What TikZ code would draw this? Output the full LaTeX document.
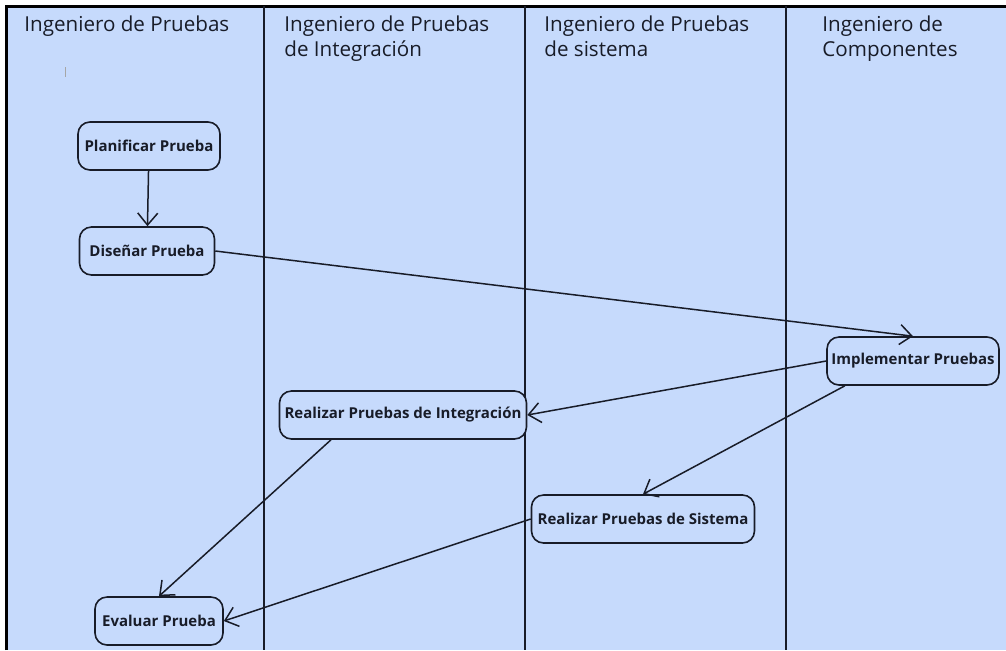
\documentclass[tikz,border=0pt]{standalone}
\usepackage{fontspec}
\setmainfont{Open Sans}
\usepackage{tikz}
\usetikzlibrary{arrows.meta}
\definecolor{lanefill}{RGB}{198,218,252}
\definecolor{ink}{RGB}{24,28,40}
\tikzstyle{lane}      = [line width=1pt, draw=ink]
\tikzstyle{head}      = [anchor=north west, align=left, inner sep=0pt, font=\fontsize{10.3}{12.5}\selectfont, text=ink]
\tikzstyle{act}       = [rectangle, rounded corners=6pt, minimum height=24pt, inner sep=2pt, text centered, draw=ink, line width=0.8pt, fill=lanefill, font=\bfseries\fontsize{7.5}{9}\selectfont, text=ink]
\tikzstyle{arrow}     = [line width=0.75pt, draw=ink, -{Straight Barb[length=6pt,width=10pt]}]

\begin{document}
\begin{tikzpicture}[x=0.5pt, y=-0.5pt, node distance=52.5pt]
      \useasboundingbox (0,0) rectangle (1006,650);
      \fill [lanefill] (6,6) rectangle (1006,650);
      \draw [line width=1.5pt, draw=black] (6,650) -- (6,6) -- (1006,6);
      \draw [lane] (264,6) -- (264,650);
      \draw [lane] (525,6) -- (525,650);
      \draw [lane] (786,6) -- (786,650);
      \draw [gray!70, line width=0.5pt] (65,67) -- (65,77);

      \node (h1) [head] at (24,15)  {Ingeniero de Pruebas};
      \node (h2) [head] at (284,15) {Ingeniero de Pruebas\\de Integración};
      \node (h3) [head] at (544,15) {Ingeniero de Pruebas\\de sistema};
      \node (h4) [head] at (822,15) {Ingeniero de\\Componentes};

      \node (plan)  [act, minimum width=71pt]  at (149,146) {Planificar Prueba};
      \node (dis)   [act, minimum width=67.5pt, below of=plan, xshift=-1pt] {Diseñar Prueba};
      \node (impl)  [act, minimum width=86pt]  at (913,361) {Implementar Pruebas};
      \node (integ) [act, minimum width=123.5pt] at (403,415) {Realizar Pruebas de Integración};
      \node (sist)  [act, minimum width=111.5pt] at (643,519) {Realizar Pruebas de Sistema};
      \node (eval)  [act, minimum width=64pt]  at (159,621) {Evaluar Prueba};

      \draw [arrow] (plan) -- (dis);
      \draw [arrow] (dis.east) -- (impl.north);
      \draw [arrow] (impl.west) -- (integ.east);
      \draw [arrow] (impl.200) -- (sist.north);
      \draw [arrow] (integ.199) -- (eval.north);
      \draw [arrow] (sist.west) -- (eval.east);

    \end{tikzpicture}
\end{document}
